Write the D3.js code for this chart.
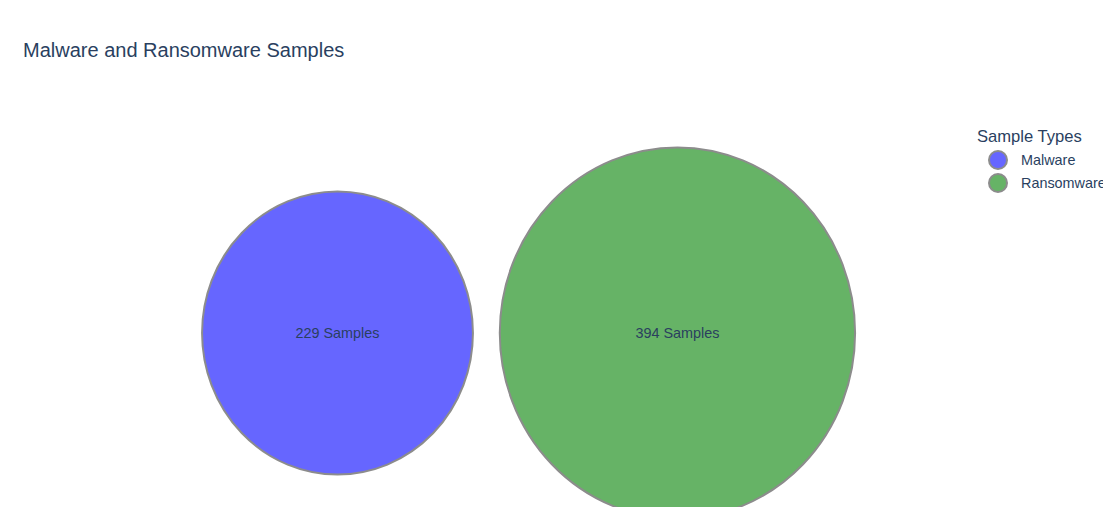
<!DOCTYPE html>
<html>
<head>
<meta charset="utf-8">
<script src="https://cdn.jsdelivr.net/npm/d3@7"></script>
<style>
  body { margin: 0; background: #fff; }
  text { font-family: "Liberation Sans", Arial, sans-serif; }
</style>
</head>
<body>
<div id="chart"></div>
<script>
// sample counts per type
const types = ["Malware", "Ransomware"];
const counts = [229, 394];
const colors = ["#6666ff", "#66b366"];
const gap = 3; // gap between circles in data units

const width = 1103, height = 507;

const svg = d3.select("#chart")
    .append("svg")
    .attr("width", width)
    .attr("height", height);

// circle radius = sqrt(count), centres placed side by side
const radii = counts.map(c => Math.sqrt(c));
const centres = [0, radii[0] + radii[1] + gap];

const x = d3.scaleLinear()
    .domain([0, 40])
    .range([337.5, 337.5 + 40 * 8.95]);

const y = d3.scaleLinear()
    .domain([0, 20])
    .range([333, 333 - 20 * 9.35]);

svg.selectAll('.bubble')
    .data(counts)
    .enter()
    .append('ellipse')
    .attr('class', 'bubble')
    .attr('cx', (d, i) => x(centres[i]))
    .attr('cy', y(0))
    .attr('rx', (d, i) => x(radii[i]) - x(0))
    .attr('ry', (d, i) => y(0) - y(radii[i]))
    .attr('fill', (d, i) => colors[i])
    .attr('stroke', '#8c8c8c')
    .attr('stroke-width', 2);

svg.selectAll('.bubble-label')
    .data(counts)
    .enter()
    .append('text')
    .attr('x', (d, i) => x(centres[i]))
    .attr('y', y(0))
    .attr('dy', '0.35em')
    .attr('text-anchor', 'middle')
    .attr('font-size', 14.4)
    .attr('fill', '#2a3f5f')
    .text(d => d + " Samples");

// title
svg.append('text')
    .attr('x', 23)
    .attr('y', 57)
    .attr('font-size', 20)
    .attr('fill', '#2a3f5f')
    .text("Malware and Ransomware Samples");

// legend
const legend = svg.append('g').attr('transform', 'translate(977, 0)');

legend.append('text')
    .attr('x', 0)
    .attr('y', 142)
    .attr('font-size', 16.6)
    .attr('fill', '#2a3f5f')
    .text("Sample Types");

const items = legend.selectAll('.item')
    .data(types)
    .enter()
    .append('g')
    .attr('transform', (d, i) => `translate(0, ${160 + i * 23})`);

items.append('circle')
    .attr('cx', 21)
    .attr('cy', 0)
    .attr('r', 9)
    .attr('fill', (d, i) => colors[i])
    .attr('stroke', '#8c8c8c')
    .attr('stroke-width', 2);

items.append('text')
    .attr('x', 44)
    .attr('y', 0)
    .attr('dy', '0.35em')
    .attr('font-size', 14.4)
    .attr('fill', '#2a3f5f')
    .text(d => d);
</script>
</body>
</html>
